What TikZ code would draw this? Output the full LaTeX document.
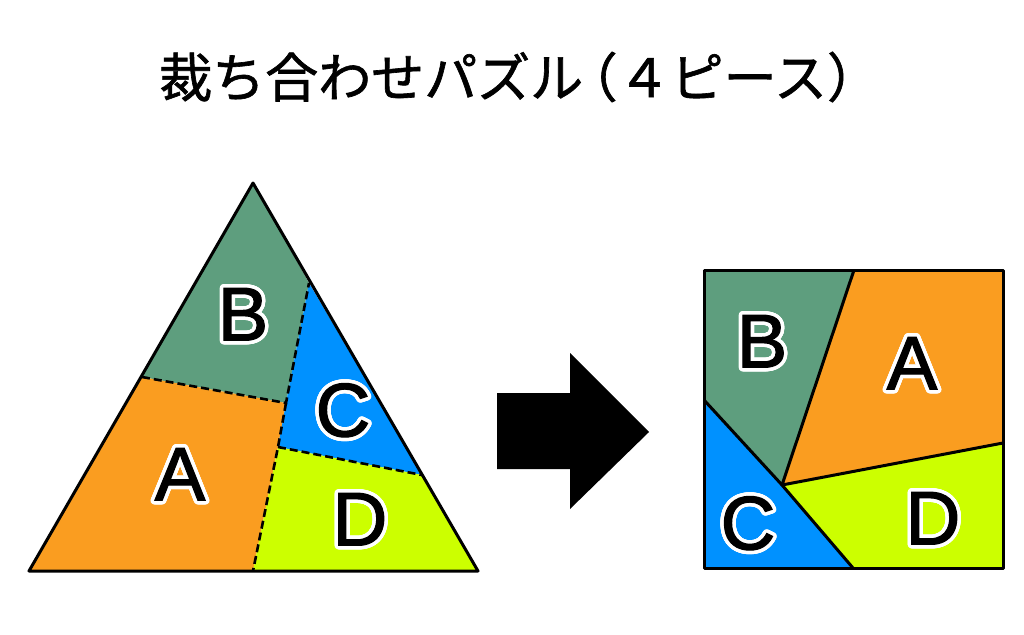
\documentclass[tikz,border=0pt]{standalone}
\usepackage{fontspec}
\usepackage{contour}
\usepackage{tikz}
\newfontfamily\cjk[FakeBold=1.2]{Noto Sans CJK JP}
\newfontfamily\letterfont[FakeBold=1.5]{Liberation Sans}
\contourlength{3.5pt}
\contournumber{32}
\definecolor{pieceB}{RGB}{94,158,126}
\definecolor{pieceA}{RGB}{250,157,32}
\definecolor{pieceC}{RGB}{0,145,255}
\definecolor{pieceD}{RGB}{204,255,0}
\newcommand\lbl[1]{\contour{white}{#1}}

\begin{document}
\begin{tikzpicture}[x=1pt,y=-1pt]
\useasboundingbox (0,0) rectangle (1024,634);

\tikzstyle{cut}=[draw=black,line width=2.6pt,dash pattern=on 8pt off 4pt]
\tikzstyle{edge}=[draw=black,line width=3pt,line join=round]
\tikzstyle{letter}=[font=\letterfont\fontsize{76}{80}\selectfont,inner sep=0pt,text=black]

%%TITLE
\node (title) [anchor=west,inner sep=0pt] at (159,77)
	{\cjk\fontsize{53}{60}\selectfont 裁ち合わせパズル\kern-0.35em（４ピース）};

%% TRIANGLE
\coordinate (top) at (253,183);
\coordinate (bl) at (29,571);
\coordinate (br) at (478,571);
\coordinate (lcut) at (142,377);
\coordinate (rcut) at (309,283);
\coordinate (mid1) at (286,403);
\coordinate (mid2) at (278,447);
\coordinate (rcut2) at (422,475);
\coordinate (bcut) at (253,571);

\fill[pieceB] (top) -- (rcut) -- (mid1) -- (lcut) -- cycle;
\fill[pieceA] (lcut) -- (mid1) -- (mid2) -- (bcut) -- (bl) -- cycle;
\fill[pieceC] (rcut) -- (rcut2) -- (mid2) -- (mid1) -- cycle;
\fill[pieceD] (mid2) -- (rcut2) -- (br) -- (bcut) -- cycle;

\path[cut] (lcut) -- (mid1) -- (rcut);
\path[cut] (mid1) -- (mid2) -- (bcut);
\path[cut] (mid2) -- (rcut2);
\path[edge] (top) -- (br) -- (bl) -- cycle;

\node (triB) [letter] at (243,316) {\lbl{B}};
\node (triA) [letter] at (180,476) {\lbl{A}};
\node (triC) [letter] at (343,412) {\lbl{C}};
\node (triD) [letter] at (360,521) {\lbl{D}};

%% ARROW
\fill[black] (497,393) -- (570,393) -- (570,353) -- (649,432)
	-- (570,509) -- (570,469) -- (497,469) -- cycle;

%% SQUARE
\coordinate (tl) at (704,270);
\coordinate (tr) at (1003,270);
\coordinate (brq) at (1003,568);
\coordinate (blq) at (704,568);
\coordinate (sqtop) at (854,270);
\coordinate (sqmid) at (782,485);
\coordinate (sqleft) at (704,400);
\coordinate (sqbot) at (853,568);
\coordinate (sqright) at (1003,443);

\fill[pieceB] (tl) -- (sqtop) -- (sqmid) -- (sqleft) -- cycle;
\fill[pieceA] (sqtop) -- (tr) -- (sqright) -- (sqmid) -- cycle;
\fill[pieceD] (sqmid) -- (sqright) -- (brq) -- (sqbot) -- cycle;
\fill[pieceC] (sqleft) -- (sqmid) -- (sqbot) -- (blq) -- cycle;

\path[edge] (sqtop) -- (sqmid) -- (sqright);
\path[edge] (sqleft) -- (sqmid) -- (sqbot);
\path[edge] (tl) rectangle (brq);

\node (sqB) [letter] at (762,343) {\lbl{B}};
\node (sqA) [letter] at (912,365) {\lbl{A}};
\node (sqC) [letter] at (748,525) {\lbl{C}};
\node (sqD) [letter] at (933,520) {\lbl{D}};

\end{tikzpicture}
\end{document}
